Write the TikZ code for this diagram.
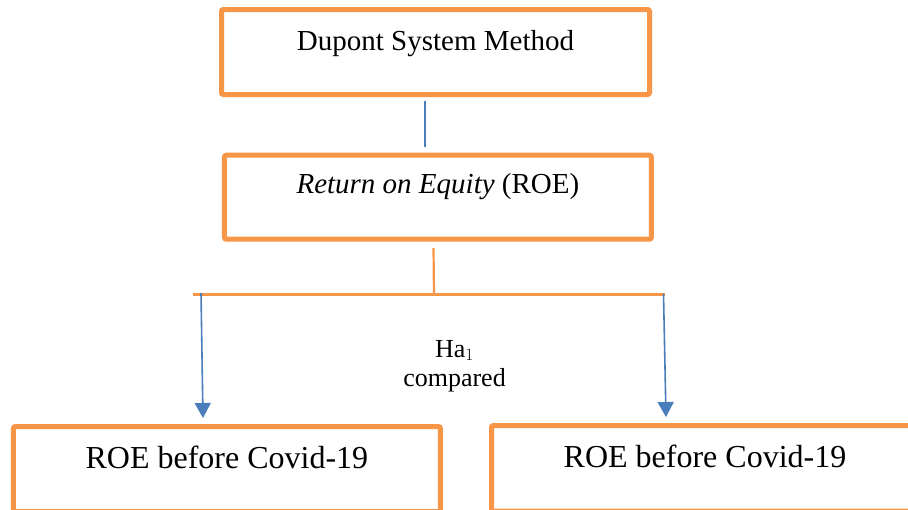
\documentclass[tikz,border=0pt]{standalone}
\usepackage{fontspec}
\setmainfont{Liberation Serif}
\usetikzlibrary{arrows.meta}
\definecolor{boxorange}{HTML}{F79646}
\definecolor{lineblue}{HTML}{4A7EBB}
\tikzset{
  obox/.style={draw=boxorange, line width=5pt, rounded corners=2pt, inner sep=0pt, align=center, anchor=base},
  bline/.style={draw=lineblue, line width=1.6pt},
  barrow/.style={bline, -{Triangle[width=16pt,length=15pt]}},
  oline/.style={draw=boxorange, line width=2.2pt},
}
\begin{document}
\begin{tikzpicture}[x=1pt,y=-1pt]
\useasboundingbox (0,0) rectangle (908,509);
\clip (0,0) rectangle (908,509);
\fill[white] (0,0) rectangle (908,509);
% boxes
\node[obox, minimum width=428pt, text height=40.5pt, text depth=44.5pt, font=\fontsize{29}{34}\selectfont] (b1) at (435.5,50) {Dupont System Method};
\node[obox, minimum width=427pt, text height=37.8pt, text depth=46.2pt, font=\fontsize{29}{34}\selectfont] (b2) at (437.9,193) {\textit{Return on Equity} (ROE)};
\node[obox, minimum width=427pt, text height=41.5pt, text depth=43.5pt, font=\fontsize{32}{38}\selectfont] (b3) at (226.9,468) {ROE before Covid-19};
\node[obox, minimum width=427pt, text height=41.5pt, text depth=44pt, font=\fontsize{32}{38}\selectfont] (b4) at (705,467) {ROE before Covid-19};
% middle label
\node[align=center, inner sep=0pt, font=\fontsize{26}{29}\selectfont] (lab) at (454.5,366) {Ha$_{1}$\\compared};
% connectors
\coordinate (t1) at (425,101);
\coordinate (t2) at (425,147);
\draw[bline] (t1) -- (t2);
\coordinate (j1) at (433.5,248);
\coordinate (j2) at (434,294.5);
\draw[oline] (j1) -- (j2);
\coordinate (hl) at (193,294.5);
\coordinate (hr) at (665,294.5);
\draw[oline] (hl) -- (hr);
\coordinate (al) at (201,293);
\coordinate (alt) at (203,418);
\coordinate (ar) at (663.5,293.5);
\coordinate (art) at (666,417);
\draw[barrow] (al) -- (alt);
\draw[barrow] (ar) -- (art);
\end{tikzpicture}
\end{document}
